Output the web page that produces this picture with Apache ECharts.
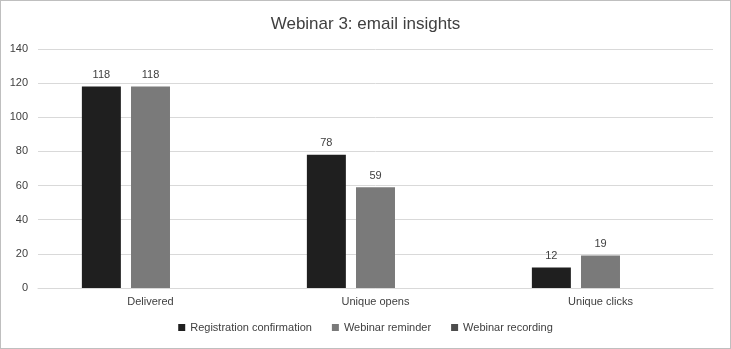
<!DOCTYPE html>
<html><head><meta charset="utf-8">
<script src="https://cdn.jsdelivr.net/npm/echarts@6/dist/echarts.min.js"></script>
<style>html,body{margin:0;padding:0;background:#fff}#c{width:731px;height:349px;box-sizing:border-box;border:1px solid #bfbfbf}</style>
</head><body><div id="c"></div>
<script>
const categories = ["Delivered", "Unique opens", "Unique clicks"];
const registration = [118, 78, 12];
const reminder = [118, 59, 19];
const recording = [null, null, null];
const seriesNames = ["Registration confirmation", "Webinar reminder", "Webinar recording"];
const chart = echarts.init(document.getElementById('c'));
const font = "'Liberation Sans', Arial, sans-serif";
const lbl = {show: true, position: 'top', color: '#404040', fontSize: 11, fontFamily: font, distance: 6};
chart.setOption({
  animation: false,
  title: {text: "Webinar 3: email insights", left: 'center', top: 10, textStyle: {fontFamily: font, fontSize: 17, fontWeight: 'normal', color: '#404040'}},
  legend: {bottom: 10, itemWidth: 7, itemHeight: 7, itemGap: 20, icon: 'rect', textStyle: {fontFamily: font, fontSize: 11, color: '#404040'}, data: seriesNames},
  grid: {left: 37, right: 17, top: 48, bottom: 60},
  xAxis: {type: 'category', data: categories, axisTick: {show: false}, axisLine: {lineStyle: {color: '#d9d9d9'}}, axisLabel: {color: '#404040', fontFamily: font, fontSize: 11, margin: 8}},
  yAxis: {type: 'value', min: 0, max: 140, interval: 20, axisLabel: {color: '#404040', fontFamily: font, fontSize: 11, margin: 10}, splitLine: {lineStyle: {color: '#d9d9d9'}}},
  series: [
    {name: seriesNames[0], type: 'bar', data: registration, itemStyle: {color: '#1f1f1f'}, label: lbl, barGap: '26%', barCategoryGap: '39%'},
    {name: seriesNames[1], type: 'bar', data: reminder, itemStyle: {color: '#7a7a7a'}, label: lbl},
    {name: seriesNames[2], type: 'bar', data: recording, itemStyle: {color: '#4d4d4d'}, label: lbl}
  ]
});
</script></body></html>
